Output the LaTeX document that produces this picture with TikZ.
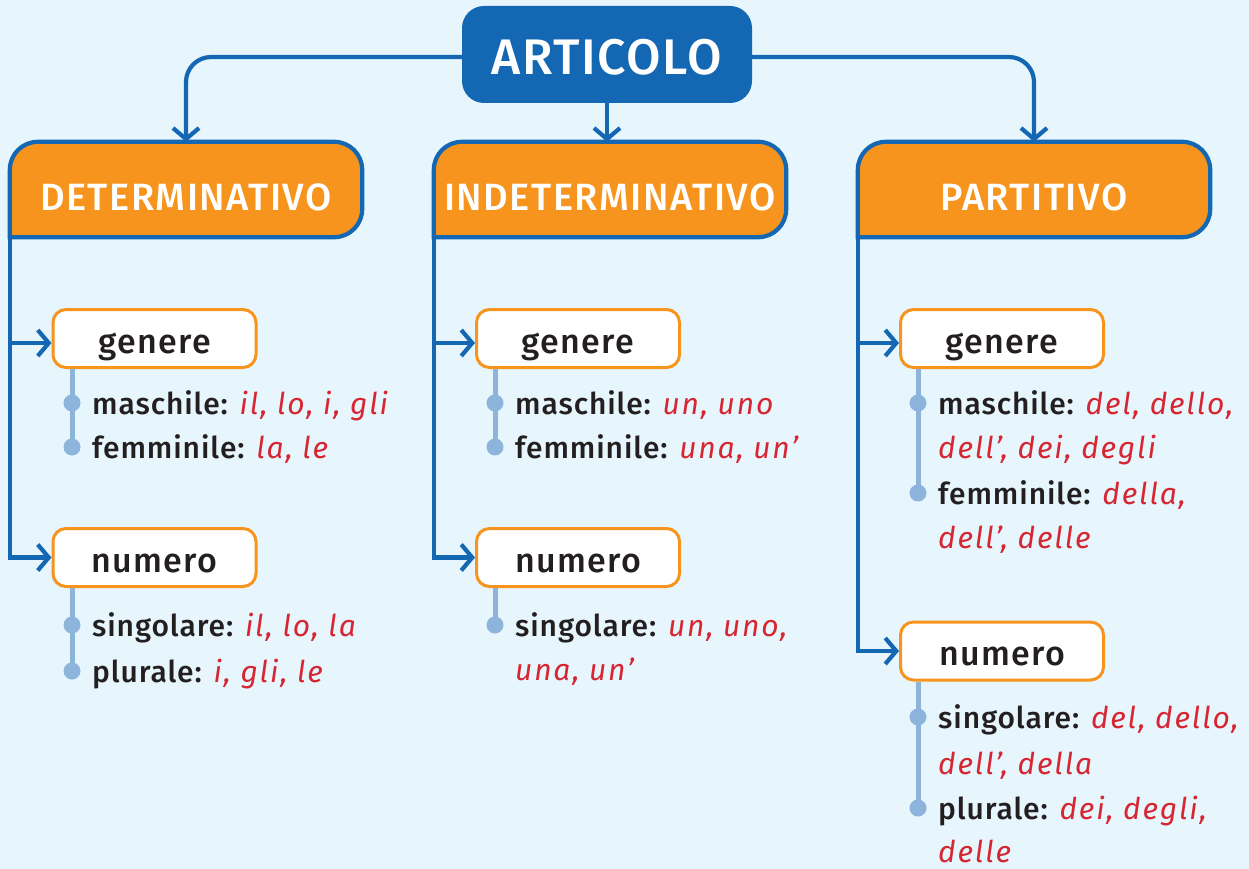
\documentclass[tikz,border=0pt]{standalone}
\usepackage{fontspec}
\setmainfont{Fira Sans}[BoldFont={Fira Sans Medium}]
\usetikzlibrary{arrows.meta,backgrounds}
\definecolor{bgc}{HTML}{E7F5FD}
\definecolor{bluec}{HTML}{1467B3}
\definecolor{orangec}{HTML}{F7941D}
\definecolor{lblue}{HTML}{8DB4DA}
\definecolor{redc}{HTML}{D62631}
\definecolor{ink}{HTML}{231F20}
\newcommand{\artred}[1]{\textcolor{redc}{\mdseries\itshape\addfontfeature{LetterSpace=6}#1}}
\newcommand{\artlab}[1]{{\bfseries #1}}
\begin{document}
\begin{tikzpicture}[x=1pt,y=-1pt,
  conn/.style={draw=bluec, line width=4.2pt, -{Straight Barb[length=11pt,width=26pt]}},
  topbox/.style={fill=bluec, rounded corners=22pt, minimum width=290pt, minimum height=97pt, inner sep=0pt, text=white, text height=41pt, text depth=0pt, font=\fontsize{50}{52}\selectfont\bfseries\addfontfeature{LetterSpace=3}},
  hdr/.style={minimum width=352pt, minimum height=95pt, inner sep=0pt, text=white, text height=43pt, text depth=0pt, font=\fontsize{38}{40}\selectfont\bfseries\addfontfeature{LetterSpace=4}},
  hdrshape/.style={fill=orangec, draw=bluec, line width=4.2pt},
  subbox/.style={draw=orangec, line width=3pt, fill=white, rounded corners=13pt, minimum width=203pt, minimum height=58pt, inner sep=0pt, text=ink, text height=29pt, text depth=0pt, font=\fontsize{34}{36}\selectfont\bfseries\addfontfeature{LetterSpace=4}},
  dot/.style={circle, fill=lblue, minimum size=17pt, inner sep=0pt},
  stem/.style={draw=lblue, line width=5pt},
  item/.style={anchor=base west, inner sep=0pt, text=ink, font=\fontsize{30}{34}\selectfont\addfontfeature{LetterSpace=3}}
]
\useasboundingbox (0,0) rectangle (1249,869);

% top node and headers
\node[topbox] (art) at (607,54.5) {ARTICOLO};
\node[hdr] (det) at (186,189.5) {DETERMINATIVO};
\node[hdr] (indet) at (610,189.5) {INDETERMINATIVO};
\node[hdr] (part) at (1034,189.5) {PARTITIVO};

\begin{scope}[on background layer]
  \fill[bgc] (0,0) rectangle (1249,869);
  \foreach \h in {det,indet,part}{
    \draw[hdrshape] (\h.west) [rounded corners=28pt] -- (\h.north west) -- (\h.north east) -- (\h.south east) [sharp corners] -- (\h.south west) -- cycle;
  }
\end{scope}

% sub boxes
\node[subbox] (gen1) at (154.5,338.5) {genere};
\node[subbox] (num1) at (154.5,557.5) {numero};
\node[subbox] (gen2) at (578,338.5) {genere};
\node[subbox] (num2) at (578,557.5) {numero};
\node[subbox] (gen3) at (1002,338.5) {genere};
\node[subbox] (num3) at (1002,651) {numero};

% connectors from ARTICOLO
\draw[conn, rounded corners=25pt] ([yshift=-2.5pt]art.west) -| (det.north);
\draw[conn, rounded corners=25pt] ([yshift=-2.5pt]art.east) -| (part.north);
\draw[conn] (art.south) -- (art.south |- indet.north);

% trunks
\draw[conn] (det.south west) |- (num1.west);
\draw[conn] (det.south west |- gen1.west) ++(0,4.5) coordinate (g1a) (g1a) -- (g1a -| gen1.west);
\draw[conn] (indet.south west) |- (num2.west);
\draw[conn] (indet.south west |- gen2.west) ++(0,4.5) coordinate (g2a) (g2a) -- (g2a -| gen2.west);
\draw[conn] (part.south west) |- (num3.west);
\draw[conn] (part.south west |- gen3.west) ++(0,4.5) coordinate (g3a) (g3a) -- (g3a -| gen3.west);

% bullets DETERMINATIVO
\node[dot] (d1) at (72,403) {};
\node[dot] (d2) at (72,447) {};
\node[dot] (d3) at (72,625) {};
\node[dot] (d4) at (72,671) {};
\draw[stem] (gen1.south -| d1) -- (d2.center);
\draw[stem] (num1.south -| d3) -- (d4.center);
\node[item] (t1) at (92,414) {\artlab{maschile:} \artred{il, lo, i, gli}};
\node[item] (t2) at (92,458) {\artlab{femminile:} \artred{la, le}};
\node[item] (t3) at (92,636) {\artlab{singolare:} \artred{il, lo, la}};
\node[item] (t4) at (92,682) {\artlab{plurale:} \artred{i, gli, le}};

% bullets INDETERMINATIVO
\node[dot] (i1) at (495,403) {};
\node[dot] (i2) at (495,447) {};
\node[dot] (i3) at (495,625) {};
\draw[stem] (gen2.south -| i1) -- (i2.center);
\draw[stem] (num2.south -| i3) -- (i3.center);
\node[item] (u1) at (515,414) {\artlab{maschile:} \artred{un, uno}};
\node[item] (u2) at (515,458) {\artlab{femminile:} \artred{una, un’}};
\node[item] (u3) at (515,636) {\artlab{singolare:} \artred{un, uno,}};
\node[item] (u4) at (515,680) {\artred{una, un’}};

% bullets PARTITIVO
\node[dot] (p1) at (918,403) {};
\node[dot] (p2) at (918,493) {};
\node[dot] (p3) at (918,717) {};
\node[dot] (p4) at (918,808) {};
\draw[stem] (gen3.south -| p1) -- (p2.center);
\draw[stem] (num3.south -| p3) -- (p4.center);
\node[item] (v1) at (938,414) {\artlab{maschile:} \artred{del, dello,}};
\node[item] (v2) at (938,458) {\artred{dell’, dei, degli}};
\node[item] (v3) at (938,504) {\artlab{femminile:} \artred{della,}};
\node[item] (v4) at (938,548) {\artred{dell’, delle}};
\node[item] (v5) at (938,728) {\artlab{singolare:} \artred{del, dello,}};
\node[item] (v6) at (938,774) {\artred{dell’, della}};
\node[item] (v7) at (938,819) {\artlab{plurale:} \artred{dei, degli,}};
\node[item] (v8) at (938,862) {\artred{delle}};
\end{tikzpicture}
\end{document}
